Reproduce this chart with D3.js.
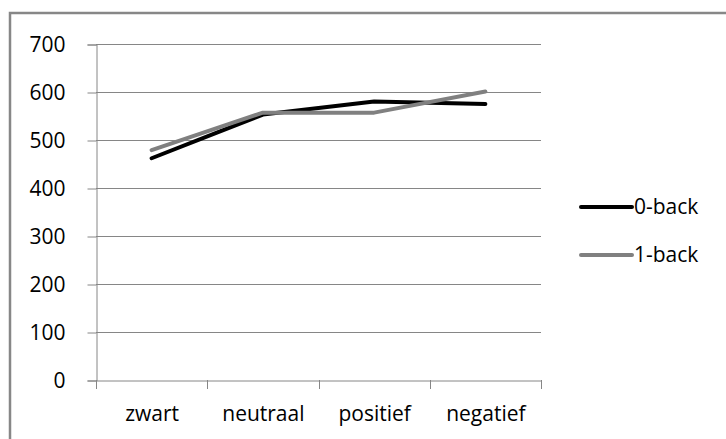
<!DOCTYPE html>
<html>
<head>
<meta charset="utf-8">
<script src="https://cdn.jsdelivr.net/npm/d3@7"></script>
<style>
  html, body { margin: 0; padding: 0; background: #fff; }
  svg { display: block; }
</style>
</head>
<body>
<script>
const categories = ["zwart", "neutraal", "positief", "negatief"];
const series0 = [462, 553, 580, 575];
const series1 = [479, 557, 557, 601];
const seriesNames = ["0-back", "1-back"];
const yTicks = [0, 100, 200, 300, 400, 500, 600, 700];

const W = 726, H = 439;
const svg = d3.select("body").append("svg").attr("width", W).attr("height", H);
const font = "'Open Sans', Lato, sans-serif";
const fs = 21;

// outer border
svg.append("rect").attr("x", 10).attr("y", 13).attr("width", W).attr("height", H)
  .attr("fill", "none").attr("stroke", "#878787").attr("stroke-width", 2.5);

const x = d3.scaleBand().domain(categories).range([96, 541]).padding(0);
const y = d3.scaleLinear().domain([0, 700]).range([380, 44]);

// gridlines
svg.append("g").selectAll("line").data(yTicks.filter(d => d > 0)).join("line")
  .attr("x1", 96).attr("x2", 541)
  .attr("y1", d => Math.round(y(d)) + 0.5).attr("y2", d => Math.round(y(d)) + 0.5)
  .attr("stroke", "#868686").attr("stroke-width", 1);

// y axis
const yAxis = svg.append("g").attr("transform", "translate(96.5,0.5)")
  .call(d3.axisLeft(y).tickValues(yTicks).tickSize(9).tickPadding(22).tickFormat(d3.format("d")));
yAxis.select(".domain").attr("stroke", "#868686");
yAxis.selectAll(".tick line").attr("stroke", "#868686");
yAxis.selectAll("text").attr("font-family", font).attr("font-size", fs).attr("fill", "#000");

// x axis
const xAxis = svg.append("g").attr("transform", "translate(0.5,380.5)")
  .call(d3.axisBottom(x).tickSize(0).tickPadding(26));
xAxis.select(".domain").attr("stroke", "#868686");
xAxis.selectAll("text").attr("font-family", font).attr("font-size", fs).attr("fill", "#000");
// category separator ticks
const edges = categories.map(c => x(c)).concat([x.range()[1]]);
svg.append("g").selectAll("line").data(edges).join("line")
  .attr("x1", d => Math.round(d) + 0.5).attr("x2", d => Math.round(d) + 0.5)
  .attr("y1", 380).attr("y2", 389)
  .attr("stroke", "#868686");

// lines
const line = d3.line().x((d, i) => x(categories[i]) + x.bandwidth() / 2).y(d => y(d));
const colors = ["#000000", "#808080"];
[series0, series1].forEach((s, k) => {
  svg.append("path").datum(s).attr("d", line)
    .attr("fill", "none").attr("stroke", colors[k]).attr("stroke-width", 4)
    .attr("stroke-linejoin", "round").attr("stroke-linecap", "round");
});

// legend
const leg = svg.append("g");
seriesNames.forEach((n, k) => {
  const ly = 207 + k * 48;
  leg.append("line").attr("x1", 581).attr("x2", 632).attr("y1", ly).attr("y2", ly)
    .attr("stroke", colors[k]).attr("stroke-width", 4).attr("stroke-linecap", "round");
  leg.append("text").attr("x", 634).attr("y", ly).attr("dy", "0.35em")
    .attr("font-family", font).attr("font-size", fs).attr("fill", "#000").text(n);
});
</script>
</body>
</html>
